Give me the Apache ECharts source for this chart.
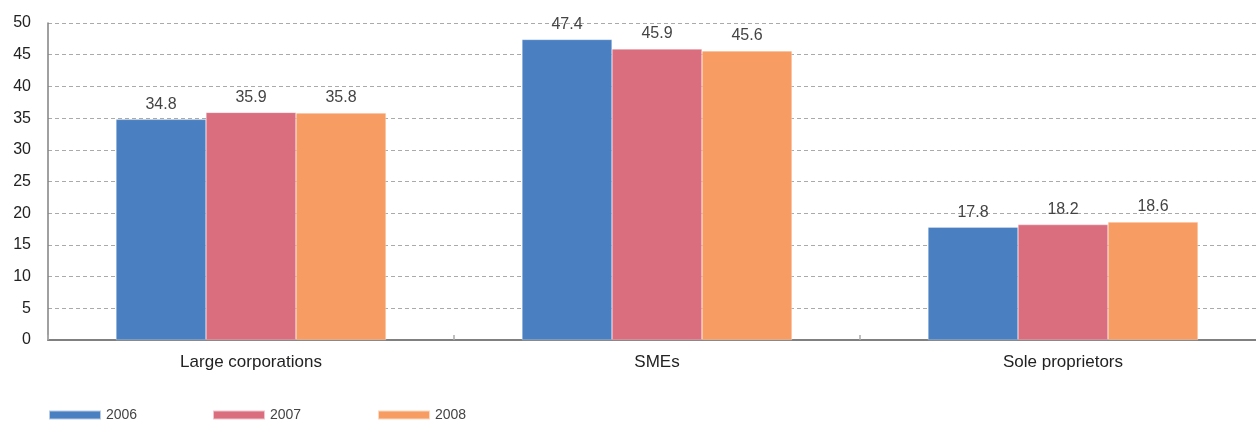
<!DOCTYPE html>
<html>
<head>
<meta charset="utf-8">
<script src="https://cdn.jsdelivr.net/npm/echarts@6/dist/echarts.min.js"></script>
<style>
  html, body { margin: 0; padding: 0; background: #fff; }
  #chart { width: 1256px; height: 421px; }
</style>
</head>
<body>
<div id="chart"></div>
<script>
const categories = ['Large corporations', 'SMEs', 'Sole proprietors'];
const years = ['2006', '2007', '2008'];
const values2006 = [34.8, 47.4, 17.8];
const values2007 = [35.9, 45.9, 18.2];
const values2008 = [35.8, 45.6, 18.6];
const yTicks = [0, 5, 10, 15, 20, 25, 30, 35, 40, 45, 50];

const colors = ['#4A7FC1', '#DB6E7E', '#F79D63'];
const font = '"Liberation Sans", Arial, sans-serif';

const chart = echarts.init(document.getElementById('chart'));

function barSeries(name, data, color) {
  return {
    name: name,
    type: 'bar',
    data: data,
    barWidth: 90,
    barGap: '0%',
    itemStyle: { color: color, borderColor: 'rgba(255,255,255,0.6)', borderWidth: 0.5 },
    label: {
      show: true,
      position: 'top',
      distance: 7,
      color: '#444',
      fontSize: 16,
      fontFamily: font,
      formatter: p => p.value.toFixed(1)
    }
  };
}

// one legend block per year, spaced evenly along the bottom
const legendLefts = [48, 212, 377];
const legends = years.map((y, i) => ({
  left: legendLefts[i],
  top: 408,
  padding: 0,
  itemWidth: 52,
  itemHeight: 9,
  itemGap: 0,
  icon: 'rect',
  data: [y],
  textStyle: { color: '#444', fontSize: 14, fontFamily: font }
}));

chart.setOption({
  animation: false,
  color: colors,
  // the plot runs a little past the right edge of the canvas
  grid: { left: 48, width: 1218, top: 23, bottom: 81, outerBoundsMode: 'none' },
  legend: legends,
  xAxis: {
    type: 'category',
    data: categories,
    axisLine: { lineStyle: { color: '#808081', width: 2 } },
    axisTick: { show: true, inside: true, length: 5, lineStyle: { color: '#aaa', width: 1.5 } },
    axisLabel: { color: '#222', fontSize: 17, fontFamily: font, margin: 14 }
  },
  yAxis: {
    type: 'value',
    min: yTicks[0],
    max: yTicks[yTicks.length - 1],
    interval: 5,
    axisLine: { show: true, lineStyle: { color: '#808081', width: 1.5 } },
    axisTick: { show: false },
    axisLabel: { color: '#222', fontSize: 16, fontFamily: font, margin: 17 },
    splitLine: { lineStyle: { color: '#aaa', type: [4, 3] } }
  },
  series: [
    barSeries(years[0], values2006, colors[0]),
    barSeries(years[1], values2007, colors[1]),
    barSeries(years[2], values2008, colors[2])
  ]
});
</script>
</body>
</html>
